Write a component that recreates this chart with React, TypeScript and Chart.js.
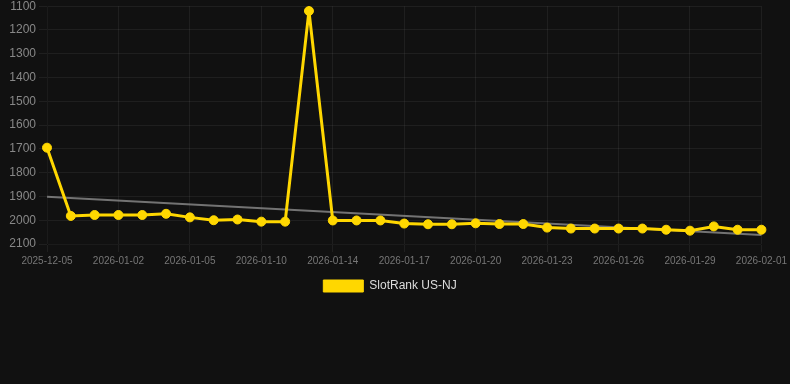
import React, { useEffect, useRef } from "react";
import { Chart, registerables } from "chart.js";

Chart.register(...registerables);

const dates: string[] = [
  "2025-12-05", "2025-12-31", "2026-01-01", "2026-01-02", "2026-01-03", "2026-01-04",
  "2026-01-05", "2026-01-07", "2026-01-08", "2026-01-10", "2026-01-11", "2026-01-12",
  "2026-01-14", "2026-01-15", "2026-01-16", "2026-01-17", "2026-01-18", "2026-01-19",
  "2026-01-20", "2026-01-21", "2026-01-22", "2026-01-23", "2026-01-24", "2026-01-25",
  "2026-01-26", "2026-01-27", "2026-01-28", "2026-01-29", "2026-01-30", "2026-01-31",
  "2026-02-01",
];

const rankValues: number[] = [
  1695, 1982, 1978, 1978, 1978, 1973, 1988, 2000, 1997, 2006, 2006,
  1120, 2001, 2001, 2001, 2014, 2017, 2017, 2013, 2016, 2016, 2031,
  2035, 2035, 2035, 2035, 2040, 2044, 2026, 2040, 2040,
];

// trend line endpoints (first and last category)
const trendStart = 1901;
const trendEnd = 2062;

const seriesLabel = "SlotRank US-NJ";
const lineColor = "#FFD700";
const gridColor = "rgba(255,255,255,0.06)";

export default function App() {
  const ref = useRef<HTMLCanvasElement | null>(null);

  useEffect(() => {
    document.body.style.margin = "0";
    document.body.style.background = "#111111";
    const canvas = ref.current;
    if (!canvas) return;
    const trendData: (number | null)[] = dates.map((_, i) =>
      i === 0 ? trendStart : i === dates.length - 1 ? trendEnd : null
    );
    const chart = new Chart(canvas, {
      type: "line",
      data: {
        labels: dates,
        datasets: [
          {
            label: seriesLabel,
            data: rankValues,
            borderColor: lineColor,
            backgroundColor: lineColor,
            borderWidth: 3,
            pointRadius: 4.5,
            pointBorderWidth: 1,
            pointBackgroundColor: lineColor,
            pointBorderColor: lineColor,
            tension: 0,
          },
          {
            label: "trend",
            data: trendData,
            borderColor: "rgba(140,140,140,0.8)",
            backgroundColor: "rgba(140,140,140,0.8)",
            borderWidth: 2,
            pointRadius: 0,
            spanGaps: true,
          },
        ],
      },
      options: {
        animation: false,
        responsive: false,
        maintainAspectRatio: false,
        layout: { padding: { left: 0, right: 2, top: 0, bottom: 0 } },
        plugins: {
          legend: {
            position: "bottom",
            labels: {
              color: "#dddddd",
              font: { size: 12 },
              boxWidth: 40,
              generateLabels: (c) =>
                Chart.defaults.plugins.legend.labels
                  .generateLabels(c)
                  .filter((it) => it.text !== "trend")
                  .map((it) => ({ ...it, lineWidth: 1 })),
            },
          },
          tooltip: { enabled: false },
        },
        scales: {
          x: {
            grid: {
              color: (ctx) => (ctx.index % 3 === 0 ? gridColor : "transparent"),
            },
            ticks: {
              color: "#777777",
              font: { size: 10 },
              maxRotation: 0,
              autoSkip: false,
              padding: 3,
              callback: (_v, i) => (i % 3 === 0 ? dates[i] : ""),
            },
          },
          y: {
            reverse: true,
            min: 1100,
            max: 2100,
            grid: { color: gridColor },
            afterFit: (scale) => {
              scale.width = 55;
            },
            ticks: {
              color: "#888888",
              font: { size: 12 },
              stepSize: 100,
              callback: (v) => String(v),
            },
          },
        },
      },
    });
    return () => chart.destroy();
  }, []);

  return (
    <div style={{ width: 790, height: 384, background: "#111111", overflow: "hidden" }}>
      <canvas
        ref={ref}
        width={798}
        height={306}
        style={{ display: "block", marginTop: -4, marginLeft: -8 }}
      />
    </div>
  );
}
